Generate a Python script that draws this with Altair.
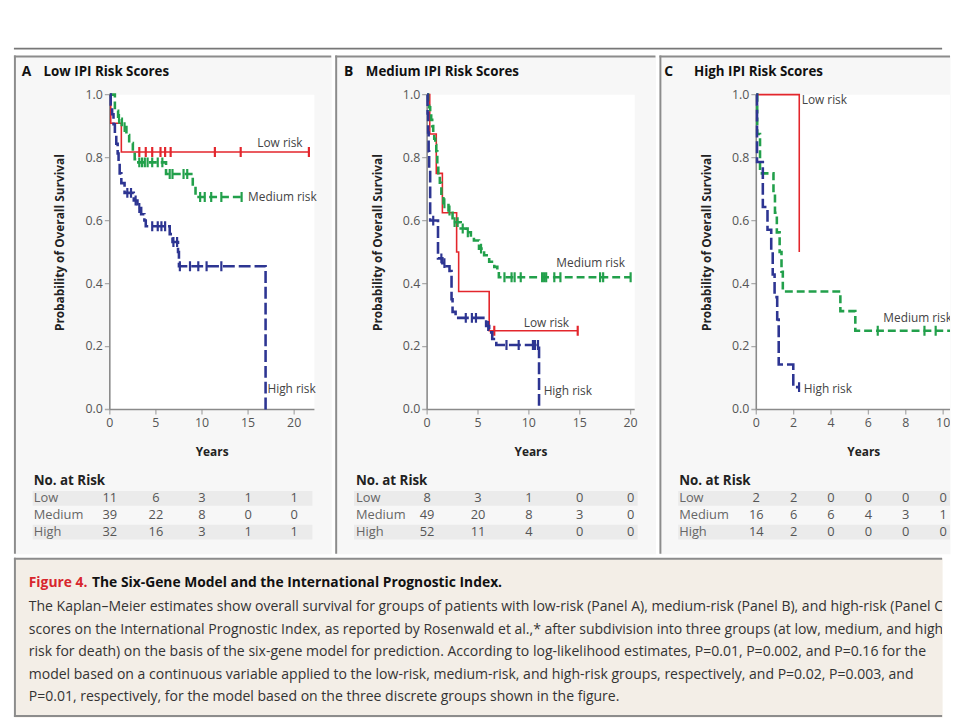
import altair as alt
import pandas as pd

FONT = "Open Sans"
RED = "#e3262c"
GREEN = "#22a04b"
BLUE = "#2d3592"
AXC = "#8a8a8a"
FRAME = "#8c8c8c"

# ---------------- data: Panel A (Low IPI) ----------------
a_low_t = [0, 0.1, 1.25, 21.6]
a_low_s = [1.0, 0.909, 0.818, 0.818]
a_low_c = [3.2, 3.9, 4.6, 5.5, 6.0, 6.6, 11.4, 14.2, 21.6]
a_med_t = [0, 0.55, 0.9, 1.3, 1.8, 2.1, 2.5, 2.7, 2.9, 6.1, 9.0, 9.3, 14.5]
a_med_s = [1.0, 0.949, 0.923, 0.897, 0.872, 0.846, 0.821, 0.795, 0.785, 0.748, 0.71, 0.675, 0.675]
a_med_c = [1.0, 1.6, 3.2, 3.5, 3.8, 4.1, 4.6, 5.2, 5.7, 6.5, 6.8, 8.0, 8.4, 9.8, 10.3, 11.0, 12.1, 14.3]
a_high_t = [0, 0.1, 0.25, 0.4, 0.55, 0.7, 0.85, 0.95, 1.07, 1.25, 1.6, 2.6, 3.0, 3.4, 3.75, 3.9, 6.5, 6.8, 7.4, 7.5, 16.9]
a_high_s = [1.0, 0.969, 0.938, 0.906, 0.875, 0.844, 0.813, 0.781, 0.75, 0.719, 0.688, 0.664, 0.64, 0.62, 0.6, 0.582, 0.557, 0.532, 0.5, 0.455, 0.0]
a_high_c = [1.9, 2.3, 2.8, 3.2, 4.6, 5.2, 5.6, 6.0, 6.9, 7.3, 7.6, 8.7, 9.6, 10.5, 12.1]
a_lab_x = [16.0, 15.0, 17.1]
a_lab_y = [0.845, 0.675, 0.066]
a_xticks = [0, 5, 10, 15, 20]
a_risk_t = [0, 5, 10, 15, 20]
a_risk_low = [11, 6, 3, 1, 1]
a_risk_med = [39, 22, 8, 0, 0]
a_risk_high = [32, 16, 3, 1, 1]

# ---------------- data: Panel B (Medium IPI) ----------------
b_low_t = [0, 0.26, 0.9, 1.5, 2.9, 3.1, 6.1, 14.8]
b_low_s = [1.0, 0.875, 0.75, 0.625, 0.5, 0.375, 0.25, 0.25]
b_low_c = [6.6, 14.8]
b_med_t = [0, 0.1, 0.2, 0.3, 0.4, 0.5, 0.6, 0.7, 0.8, 0.9, 1.0, 1.1, 1.25, 1.4, 1.6, 2.1, 2.5, 3.3, 3.8, 4.3, 4.6, 5.1, 5.6, 6.1, 6.6, 6.9, 7.05, 20.0]
b_med_s = [1.0, 0.98, 0.96, 0.94, 0.92, 0.9, 0.88, 0.86, 0.84, 0.82, 0.78, 0.745, 0.72, 0.68, 0.655, 0.632, 0.595, 0.575, 0.563, 0.548, 0.537, 0.511, 0.49, 0.469, 0.453, 0.438, 0.42, 0.42]
b_med_c = [1.7, 2.2, 2.7, 3.0, 3.5, 4.0, 5.3, 7.6, 8.3, 8.6, 9.2, 11.3, 11.5, 11.7, 12.5, 13.1, 17.0, 17.3, 20.0]
b_high_t = [0, 0.05, 0.1, 0.15, 0.2, 0.3, 1.07, 1.5, 1.9, 2.2, 2.4, 2.5, 2.8, 5.8, 6.1, 6.4, 6.8, 11.0]
b_high_s = [1.0, 0.94, 0.88, 0.82, 0.76, 0.6, 0.48, 0.465, 0.455, 0.44, 0.35, 0.31, 0.291, 0.265, 0.245, 0.224, 0.205, 0.0]
b_high_c = [0.6, 1.4, 1.7, 3.8, 4.4, 4.8, 6.0, 7.8, 9.0, 10.4, 10.6, 10.9]
b_lab_x = [9.5, 12.7, 11.45]
b_lab_y = [0.276, 0.465, 0.057]
b_xticks = [0, 5, 10, 15, 20]
b_risk_t = [0, 5, 10, 15, 20]
b_risk_low = [8, 3, 1, 0, 0]
b_risk_med = [49, 20, 8, 3, 0]
b_risk_high = [52, 11, 4, 0, 0]

# ---------------- data: Panel C (High IPI) ----------------
c_low_t = [0, 2.3]
c_low_s = [1.0, 0.5]
c_low_c = []
c_med_t = [0, 0.05, 0.2, 0.92, 1.0, 1.1, 1.25, 1.35, 1.42, 4.5, 5.3, 10.6]
c_med_s = [1.0, 0.875, 0.75, 0.6875, 0.625, 0.5625, 0.5, 0.4375, 0.375, 0.3125, 0.25, 0.0]
c_med_c = [6.5, 9.0, 9.6]
c_high_t = [0, 0.04, 0.35, 0.6, 0.8, 0.88, 0.98, 1.12, 1.2, 1.98, 2.29]
c_high_s = [1.0, 0.786, 0.643, 0.571, 0.5, 0.429, 0.357, 0.286, 0.143, 0.071, 0.071]
c_high_c = [2.29]
c_lab_x = [2.43, 6.8, 2.54]
c_lab_y = [0.983, 0.292, 0.066]
c_xticks = [0, 2, 4, 6, 8, 10]
c_risk_t = [0, 2, 4, 6, 8, 10]
c_risk_low = [2, 2, 0, 0, 0, 0]
c_risk_med = [16, 6, 6, 4, 3, 1]
c_risk_high = [14, 2, 0, 0, 0, 0]

y_ticks = [0.0, 0.2, 0.4, 0.6, 0.8, 1.0]
group_names = ["Low", "Medium", "High"]
curve_labels = ["Low risk", "Medium risk", "High risk"]

caption_head = "Figure 4."
caption_title = "The Six-Gene Model and the International Prognostic Index."
caption_lines = [
    "The Kaplan\u2013Meier estimates show overall survival for groups of patients with low-risk (Panel A), medium-risk (Panel B), and high-risk (Panel C)",
    "scores on the International Prognostic Index, as reported by Rosenwald et al.,* after subdivision into three groups (at low, medium, and high",
    "risk for death) on the basis of the six-gene model for prediction. According to log-likelihood estimates, P=0.01, P=0.002, and P=0.16 for the",
    "model based on a continuous variable applied to the low-risk, medium-risk, and high-risk groups, respectively, and P=0.02, P=0.003, and",
    "P=0.01, respectively, for the model based on the three discrete groups shown in the figure.",
]


def step_at(ts, ss, t):
    v = ss[0]
    for ti, si in zip(ts, ss):
        if ti <= t:
            v = si
    return v


PANEL_H = 504
Y_RANGE = [358, 39.5]
DUMMY = pd.DataFrame({"a": [0]})


def frame_rule(**enc):
    return alt.Chart(DUMMY).mark_rule(color=FRAME, strokeWidth=2).encode(**enc)


def panel(letter, title, letter_x, title_x, width, xmax, xrange, xticks,
          curves, lab_x, lab_y, risk_t, risk_rows, label_x, stripe_end):
    xs = alt.Scale(domain=[0, xmax], range=xrange, nice=False, zero=False)
    ys = alt.Scale(domain=[0, 1], range=Y_RANGE, nice=False, zero=False)
    X = lambda f: alt.X(f, scale=xs, axis=None)
    Y = lambda f: alt.Y(f, scale=ys, axis=None)

    layers = []
    # plot area
    layers.append(alt.Chart(pd.DataFrame({"x0": [0], "x1": [xmax], "y0": [0], "y1": [1]})).mark_rect(
        color="white", clip=True).encode(x=X("x0:Q"), x2="x1:Q", y=Y("y0:Q"), y2="y1:Q"))
    # axes drawn through the scales
    layers.append(alt.Chart(pd.DataFrame({"a": [0], "b": [xmax], "y": [0]})).mark_rule(
        color=AXC, strokeWidth=1.6, clip=True).encode(x=X("a:Q"), x2="b:Q", y=Y("y:Q")))
    layers.append(alt.Chart(pd.DataFrame({"x": [0], "a": [0], "b": [1]})).mark_rule(
        color=AXC, strokeWidth=1.6, clip=True).encode(x=X("x:Q"), y=Y("a:Q"), y2="b:Q"))
    xt = pd.DataFrame({"t": xticks, "y": [0] * len(xticks), "lab": [str(v) for v in xticks]})
    layers.append(alt.Chart(xt).mark_tick(orient="vertical", size=5, thickness=1.3, yOffset=2.5,
                                          color=AXC, clip=True).encode(x=X("t:Q"), y=Y("y:Q")))
    layers.append(alt.Chart(xt).mark_text(baseline="top", dy=8, font=FONT, fontSize=12.5,
                                          color="#555", clip=True).encode(
        x=X("t:Q"), y=Y("y:Q"), text="lab:N"))
    yt = pd.DataFrame({"x": [0] * len(y_ticks), "v": y_ticks, "lab": ["%.1f" % v for v in y_ticks]})
    layers.append(alt.Chart(yt).mark_tick(orient="horizontal", size=5, thickness=1.3, xOffset=-2.5,
                                          color=AXC, clip=True).encode(x=X("x:Q"), y=Y("v:Q")))
    layers.append(alt.Chart(yt).mark_text(align="right", baseline="middle", dx=-7, font=FONT,
                                          fontSize=12.5, color="#555", clip=True).encode(
        x=X("x:Q"), y=Y("v:Q"), text="lab:N"))
    layers.append(alt.Chart(pd.DataFrame({"x": [xmax / 2], "lab": ["Years"]})).mark_text(
        baseline="middle", font=FONT, fontSize=12, fontWeight="bold", color="#222", clip=True).encode(
        x=X("x:Q"), y=alt.value(401), text="lab:N"))
    layers.append(alt.Chart(pd.DataFrame({"y": [0.53], "lab": ["Probability of Overall Survival"]})).mark_text(
        angle=270, baseline="middle", font=FONT, fontSize=12, fontWeight="bold", color="#222", clip=True).encode(
        x=alt.value(xrange[0] - 50), y=Y("y:Q"), text="lab:N"))

    styles = [(RED, None, 1.6), (GREEN, [8, 4], 2.6), (BLUE, [12, 4], 2.6)]
    for (ts, ss, cs), (col, dash, w) in zip(curves, styles):
        line_df = pd.DataFrame({"t": ts, "s": ss})
        mk = dict(interpolate="step-after", color=col, strokeWidth=w, clip=True)
        if dash is not None:
            mk["strokeDash"] = dash
        layers.append(alt.Chart(line_df).mark_line(**mk).encode(x=X("t:Q"), y=Y("s:Q")))
        if cs:
            cdf = pd.DataFrame({"t": cs, "s": [step_at(ts, ss, c) for c in cs]})
            layers.append(alt.Chart(cdf).mark_tick(orient="vertical", color=col, size=10,
                                                   thickness=2.2, opacity=1, clip=True).encode(
                x=X("t:Q"), y=Y("s:Q")))
    ldf = pd.DataFrame({"name": curve_labels, "x": lab_x, "y": lab_y})
    layers.append(alt.Chart(ldf).mark_text(align="left", baseline="middle", font=FONT,
                                           fontSize=12, color="#444", clip=True).encode(
        x=X("x:Q"), y=Y("y:Q"), text="name:N"))
    km = alt.layer(*layers)

    # risk table
    ty = alt.Scale(domain=[0, 2], range=[448, 482], nice=False, zero=False)
    rows = []
    for ri, vals in enumerate(risk_rows):
        for t, n in zip(risk_t, vals):
            rows.append({"t": t, "row": ri, "n": str(n)})
    tdf = pd.DataFrame(rows)
    tbl = []
    tbl.append(alt.Chart(pd.DataFrame({"row": [0, 2]})).mark_rule(
        color="#ebebeb", strokeWidth=15, clip=True).encode(
        x=alt.value(19), x2=alt.value(stripe_end), y=alt.Y("row:Q", scale=ty, axis=None)))
    tbl.append(alt.Chart(tdf).mark_text(font=FONT, fontSize=13, color="#555", baseline="middle",
                                        clip=True).encode(
        x=X("t:Q"), y=alt.Y("row:Q", scale=ty, axis=None), text="n:N"))
    tbl.append(alt.Chart(pd.DataFrame({"row": [0, 1, 2], "name": group_names})).mark_text(
        align="left", baseline="middle", font=FONT, fontSize=13, color="#666", clip=True).encode(
        x=alt.value(label_x), y=alt.Y("row:Q", scale=ty, axis=None), text="name:N"))
    tbl.append(alt.Chart(pd.DataFrame({"h": ["No. at Risk"]})).mark_text(
        align="left", baseline="middle", font=FONT, fontSize=13.5, fontWeight="bold", color="#222",
        clip=True).encode(x=alt.value(label_x), y=alt.value(430), text="h:N"))
    tbl.append(alt.Chart(pd.DataFrame({"h": [letter]})).mark_text(
        align="left", baseline="middle", font=FONT, fontSize=14, fontWeight="bold", color="#111",
        clip=True).encode(x=alt.value(letter_x), y=alt.value(17), text="h:N"))
    tbl.append(alt.Chart(pd.DataFrame({"h": [title]})).mark_text(
        align="left", baseline="middle", font=FONT, fontSize=13.5, fontWeight="bold", color="#111",
        clip=True).encode(x=alt.value(title_x), y=alt.value(17), text="h:N"))
    # panel frame: top and left edges (the next panel's left edge closes this one)
    tbl.append(frame_rule(x=alt.value(0), x2=alt.value(width), y=alt.value(1)))
    tbl.append(frame_rule(x=alt.value(1), y=alt.value(0), y2=alt.value(PANEL_H)))
    table = alt.layer(*tbl)

    view = alt.ViewBackground(fill="#f7f7f7", stroke="transparent")
    return alt.layer(km, table).resolve_scale(y="independent").properties(
        width=width, height=PANEL_H, view=view)


WA, WB, WC = 321, 324, 294
pA = panel("A", "Low IPI Risk Scores", 8, 30, WA, 22.2, [97, 304], a_xticks,
           [(a_low_t, a_low_s, a_low_c), (a_med_t, a_med_s, a_med_c), (a_high_t, a_high_s, a_high_c)],
           a_lab_x, a_lab_y, a_risk_t, [a_risk_low, a_risk_med, a_risk_high], 20, 302)
pB = panel("B", "Medium IPI Risk Scores", 9, 31, WB, 20.4, [93, 303], b_xticks,
           [(b_low_t, b_low_s, b_low_c), (b_med_t, b_med_s, b_med_c), (b_high_t, b_high_s, b_high_c)],
           b_lab_x, b_lab_y, b_risk_t, [b_risk_low, b_risk_med, b_risk_high], 21, 306)
pC = panel("C", "High IPI Risk Scores", 5, 35, WC, 11.5, [98, 315.4], c_xticks,
           [(c_low_t, c_low_s, c_low_c), (c_med_t, c_med_s, c_med_c), (c_high_t, c_high_s, c_high_c)],
           c_lab_x, c_lab_y, c_risk_t, [c_risk_low, c_risk_med, c_risk_high], 20, WC)

TOTAL_W = WA + WB + WC
CAP_H = 161

cap = []
cap.append(alt.Chart(pd.DataFrame({"h": [caption_head]})).mark_text(
    align="left", baseline="middle", font=FONT, fontSize=14, fontWeight="bold", color="#d8262d",
    clip=True).encode(x=alt.value(15), y=alt.value(26), text="h:N"))
cap.append(alt.Chart(pd.DataFrame({"h": [caption_title]})).mark_text(
    align="left", baseline="middle", font=FONT, fontSize=14, fontWeight="bold", color="#111",
    clip=True).encode(x=alt.value(79), y=alt.value(26), text="h:N"))
cap.append(alt.Chart(pd.DataFrame({"line": caption_lines, "i": list(range(len(caption_lines)))})).mark_text(
    align="left", baseline="middle", font=FONT, fontSize=14.2, color="#333", clip=True).encode(
    x=alt.value(15),
    y=alt.Y("i:Q", scale=alt.Scale(domain=[0, 4], range=[50, 141], nice=False, zero=False), axis=None),
    text="line:N"))
cap.append(frame_rule(x=alt.value(0), x2=alt.value(TOTAL_W), y=alt.value(1)))
cap.append(frame_rule(x=alt.value(0), x2=alt.value(TOTAL_W), y=alt.value(CAP_H - 1)))
cap.append(frame_rule(x=alt.value(1), y=alt.value(0), y2=alt.value(CAP_H)))
caption = alt.layer(*cap).properties(
    width=TOTAL_W, height=CAP_H,
    view=alt.ViewBackground(fill="#f3eee7", stroke="transparent"))

topline = alt.Chart(DUMMY).mark_rule(color="#777777", strokeWidth=1.8).encode(
    x=alt.value(0), x2=alt.value(TOTAL_W), y=alt.value(1)).properties(
    width=TOTAL_W, height=5, view=alt.ViewBackground(fill="transparent", stroke="transparent"))

chart = alt.vconcat(
    topline,
    alt.hconcat(pA, pB, pC, spacing=0),
    caption,
    spacing=0,
).properties(
    padding={"left": 4, "top": 35, "right": 0, "bottom": 0},
    background="white",
)

chart.save("out.html", embed_options={"renderer": "svg", "actions": False})
